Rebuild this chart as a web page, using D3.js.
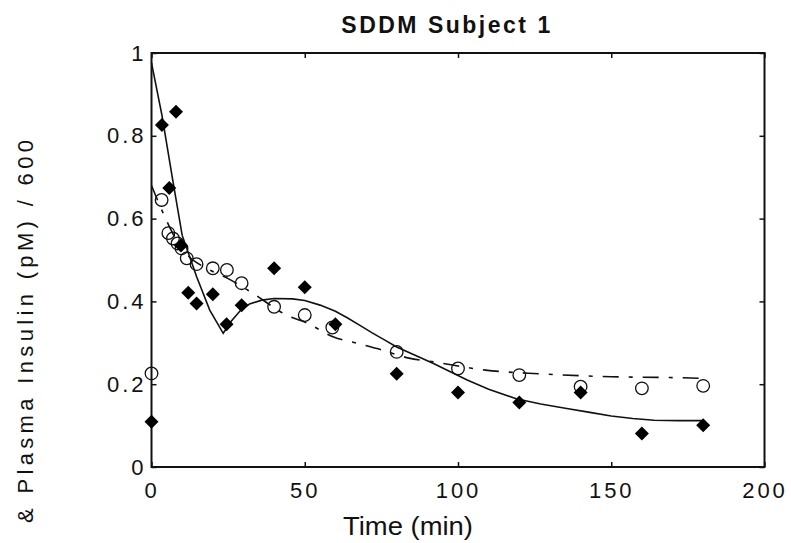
<!DOCTYPE html>
<html>
<head>
<meta charset="utf-8">
<script src="https://cdn.jsdelivr.net/npm/d3@7"></script>
<style>
  body { margin: 0; background: #fff; }
  text { font-family: "Liberation Sans", Arial, sans-serif; fill: #111; }
</style>
</head>
<body>
<script>
// measured data (filled diamonds) and open circles, with their model fits
var diamondT = [0, 3.4, 5.8, 8, 9.6, 12, 14.7, 20, 24.5, 29.4, 40, 50, 60, 80, 100, 120, 140, 160, 180];
var diamondV = [0.109, 0.826, 0.674, 0.858, 0.535, 0.421, 0.395, 0.417, 0.345, 0.391, 0.48, 0.434, 0.345, 0.225, 0.18, 0.156, 0.18, 0.081, 0.101];

var circleT = [0, 3.3, 5.5, 7, 8.5, 9.8, 11.5, 14.7, 20, 24.6, 29.4, 40, 50, 59, 80, 100, 120, 140, 160, 180];
var circleV = [0.226, 0.645, 0.565, 0.552, 0.54, 0.528, 0.504, 0.49, 0.48, 0.476, 0.444, 0.387, 0.367, 0.337, 0.278, 0.238, 0.222, 0.194, 0.19, 0.196];

var fitSolidT = [0, 3.4, 7, 10, 14.7, 19, 23.4, 26, 29, 32, 36, 40, 46, 50, 55, 60, 64, 68, 72, 76, 80, 86, 92, 97, 103, 110, 119, 127, 135, 143, 150, 157, 164, 172, 180];
var fitSolidV = [0.976, 0.85, 0.69, 0.56, 0.46, 0.379, 0.323, 0.352, 0.378, 0.394, 0.403, 0.407, 0.406, 0.402, 0.391, 0.376, 0.36, 0.342, 0.324, 0.307, 0.29, 0.27, 0.25, 0.232, 0.21, 0.188, 0.165, 0.152, 0.142, 0.132, 0.123, 0.117, 0.113, 0.112, 0.112];

var fitDashT = [0, 4, 8, 12, 18, 25, 33, 40, 44, 51, 59, 67, 75, 84, 92, 109, 127, 150, 170, 180];
var fitDashV = [0.68, 0.61, 0.55, 0.51, 0.48, 0.455, 0.42, 0.385, 0.367, 0.347, 0.315, 0.299, 0.283, 0.263, 0.254, 0.234, 0.225, 0.218, 0.216, 0.214];

var xTicks = [0, 50, 100, 150, 200];
var yTicks = [0, 0.2, 0.4, 0.6, 0.8, 1];
var yTickLabels = ["0", "0.2", "0.4", "0.6", "0.8", "1"];

var titleText = "SDDM Subject 1";
var xLabel = "Time (min)";
var yLabel = "& Plasma  Insulin  (pM)   / 600";

var W = 791, H = 543;
var plotL = 151.5, plotR = 764.5, plotT = 53, plotB = 467;

var x = d3.scaleLinear().domain([0, 200]).range([plotL, plotR]);
var y = d3.scaleLinear().domain([0, 1]).range([plotB, plotT]);

var svg = d3.select("body").append("svg").attr("width", W).attr("height", H);
svg.append("rect").attr("width", W).attr("height", H).attr("fill", "#fff");

function styleAxis(g) {
  g.select(".domain").remove();
  g.selectAll(".tick line").attr("stroke", "#111").attr("stroke-width", 1.5);
  g.selectAll("text").attr("font-size", 22).attr("letter-spacing", "3px")
    .attr("font-family", "'Liberation Sans', Arial, sans-serif").attr("fill", "#111");
}

svg.append("g").attr("transform", "translate(0," + plotB + ")")
  .call(d3.axisBottom(x).tickValues(xTicks).tickSizeInner(-5).tickSizeOuter(0).tickPadding(15))
  .call(styleAxis);
svg.append("g").attr("transform", "translate(0," + plotT + ")")
  .call(d3.axisTop(x).tickValues(xTicks).tickSizeInner(-5).tickSizeOuter(0).tickFormat(""))
  .call(styleAxis);
svg.append("g").attr("transform", "translate(" + plotL + ",0)")
  .call(d3.axisLeft(y).tickValues(yTicks).tickSizeInner(-5).tickSizeOuter(0).tickPadding(5)
    .tickFormat(function(d, i) { return yTickLabels[i]; }))
  .call(styleAxis);
svg.append("g").attr("transform", "translate(" + plotR + ",0)")
  .call(d3.axisRight(y).tickValues(yTicks).tickSizeInner(-5).tickSizeOuter(0).tickFormat(""))
  .call(styleAxis);

svg.append("rect")
  .attr("x", plotL).attr("y", plotT)
  .attr("width", plotR - plotL).attr("height", plotB - plotT)
  .attr("fill", "none").attr("stroke", "#111").attr("stroke-width", 2);

// fitted curves
var solid = fitSolidT.map(function(t, i) { return [t, fitSolidV[i]]; });
var dashed = fitDashT.map(function(t, i) { return [t, fitDashV[i]]; });

svg.append("path").datum(solid)
  .attr("fill", "none").attr("stroke", "#111").attr("stroke-width", 1.6)
  .attr("d", d3.line().x(function(d) { return x(d[0]); }).y(function(d) { return y(d[1]); }).curve(d3.curveLinear));

svg.append("path").datum(dashed)
  .attr("fill", "none").attr("stroke", "#111").attr("stroke-width", 1.6)
  .attr("stroke-dasharray", "16,10,4,10")
  .attr("d", d3.line().x(function(d) { return x(d[0]); }).y(function(d) { return y(d[1]); }).curve(d3.curveMonotoneX));

// open circles
svg.selectAll("circle.ins")
  .data(circleT)
  .enter().append("circle")
    .attr("class", "ins")
    .attr("cx", function(d) { return x(d); })
    .attr("cy", function(d, i) { return y(circleV[i]); })
    .attr("r", 6.3)
    .attr("fill", "none")
    .attr("stroke", "#111")
    .attr("stroke-width", 1.3);

// filled diamonds
var dr = 7;
svg.selectAll("path.glu")
  .data(diamondT)
  .enter().append("path")
    .attr("class", "glu")
    .attr("transform", function(d, i) { return "translate(" + x(d) + "," + y(diamondV[i]) + ")"; })
    .attr("d", "M0," + (-dr) + "L" + dr + ",0L0," + dr + "L" + (-dr) + ",0Z")
    .attr("fill", "#000");

svg.append("text")
  .attr("x", 447).attr("y", 33)
  .attr("text-anchor", "middle")
  .attr("font-size", 23).attr("font-weight", "bold")
  .attr("letter-spacing", "2.5px")
  .text(titleText);

svg.append("text")
  .attr("x", 408).attr("y", 535)
  .attr("text-anchor", "middle")
  .attr("font-size", 25)
  .attr("textLength", 130).attr("lengthAdjust", "spacingAndGlyphs")
  .text(xLabel);

svg.append("text")
  .attr("transform", "translate(33,140) rotate(-90)")
  .attr("text-anchor", "end")
  .attr("font-size", 22)
  .attr("textLength", 383).attr("lengthAdjust", "spacing")
  .text(yLabel);
</script>
</body>
</html>
